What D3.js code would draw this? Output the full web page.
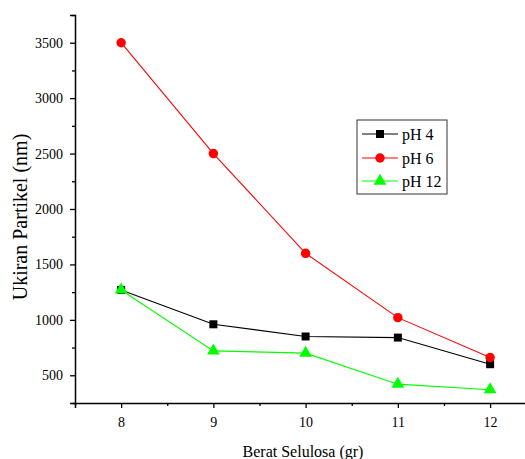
<!DOCTYPE html>
<html><head><meta charset="utf-8">
<script src="https://cdn.jsdelivr.net/npm/d3@7"></script>
<style>body{margin:0;background:#fff}svg{display:block}text{font-family:"Liberation Serif","Times New Roman",serif}</style>
</head><body>
<svg id="c" width="525" height="459"></svg>
<script>
const categories = [8, 9, 10, 11, 12];
const pH4 = [1270, 960, 850, 840, 600];
const pH6 = [3500, 2500, 1600, 1020, 660];
const pH12 = [1270, 720, 700, 420, 370];
const yTicks = [500, 1000, 1500, 2000, 2500, 3000, 3500];
const seriesNames = ["pH 4", "pH 6", "pH 12"];

const svg = d3.select("#c");
const x = d3.scaleLinear().domain([7.5, 12.4]).range([75, 527]);
const y = d3.scaleLinear().domain([250, 3750]).range([403, 15]);

const series = [
  {name: seriesNames[0], vals: pH4, color: "#000000", sym: d3.symbolSquare, size: 64},
  {name: seriesNames[1], vals: pH6, color: "#ff0000", sym: d3.symbolCircle, size: 70},
  {name: seriesNames[2], vals: pH12, color: "#00ff00", sym: d3.symbolTriangle, size: 70}
];

// axes
const xAx = svg.append("g").attr("transform", "translate(0,403)")
  .call(d3.axisBottom(x).tickValues(categories).tickFormat(d3.format("d")).tickSize(5).tickPadding(9));
const xMinor = svg.append("g").attr("transform", "translate(0,403)")
  .call(d3.axisBottom(x).tickValues([7.5, 8.5, 9.5, 10.5, 11.5]).tickFormat("").tickSize(3));
const yAx = svg.append("g").attr("transform", "translate(75,0)")
  .call(d3.axisLeft(y).tickValues(yTicks).tickFormat(d3.format("d")).tickSize(5).tickPadding(7));
const yMinor = svg.append("g").attr("transform", "translate(75,0)")
  .call(d3.axisLeft(y).tickValues([250, 750, 1250, 1750, 2250, 2750, 3250, 3750]).tickFormat("").tickSize(3));
[xAx, xMinor, yAx, yMinor].forEach(g => {
  g.attr("font-family", "Liberation Serif, serif").attr("font-size", 14);
  g.select(".domain").attr("stroke", "#000").attr("stroke-width", 1.5);
  g.selectAll(".tick line").attr("stroke", "#000").attr("stroke-width", 1.3);
  g.selectAll(".tick text").attr("font-size", 14).attr("fill", "#000");
});
xMinor.select(".domain").remove();
yMinor.select(".domain").remove();

// lines
const line = d3.line().x((d, i) => x(categories[i])).y(d => y(d));
series.forEach(s => {
  svg.append("path").datum(s.vals).attr("d", line)
    .attr("fill", "none").attr("stroke", s.color).attr("stroke-width", 1.1);
});
series.forEach(s => {
  svg.selectAll(null).data(s.vals).enter().append("path")
    .attr("d", d3.symbol().type(s.sym).size(s.size))
    .attr("transform", (d, i) => `translate(${x(categories[i])},${y(d)})`)
    .attr("fill", s.color);
});

// axis labels
svg.append("text").attr("x", 303).attr("y", 457).attr("text-anchor", "middle")
  .attr("font-size", 16).text("Berat Selulosa (gr)");
svg.append("text").attr("transform", "translate(27,217) rotate(-90)").attr("text-anchor", "middle")
  .attr("font-size", 20).text("Ukiran Partikel (nm)");

// legend
const lg = svg.append("g");
lg.append("rect").attr("x", 357).attr("y", 120).attr("width", 90).attr("height", 74)
  .attr("fill", "#fff").attr("stroke", "#333").attr("stroke-width", 1);
const rowsY = [134, 158, 181];
series.forEach((s, i) => {
  const yy = rowsY[i];
  lg.append("line").attr("x1", 362).attr("x2", 398).attr("y1", yy).attr("y2", yy)
    .attr("stroke", s.color).attr("stroke-width", 1.1);
  lg.append("path").attr("d", d3.symbol().type(s.sym).size(s.size)).attr("fill", s.color)
    .attr("transform", `translate(380,${yy})`);
  lg.append("text").attr("x", 402).attr("y", yy + 5.5).attr("font-size", 16).text(s.name);
});
</script>
</body></html>
